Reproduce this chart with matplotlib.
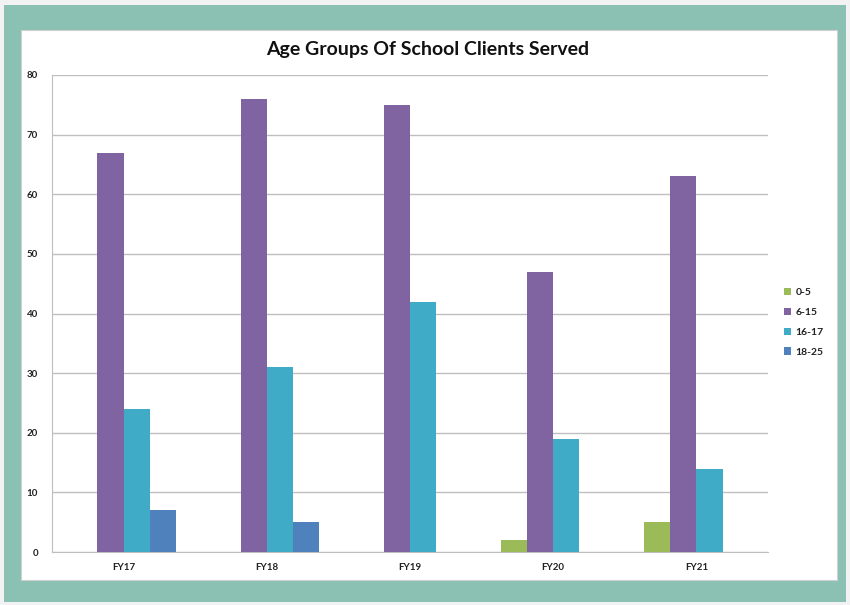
import matplotlib.pyplot as plt
import numpy as np
from matplotlib.patches import Rectangle

years = ["FY17", "FY18", "FY19", "FY20", "FY21"]
groups = ["0-5", "6-15", "16-17", "18-25"]
age_0_5 = [0, 0, 0, 2, 5]
age_6_15 = [67, 76, 75, 47, 63]
age_16_17 = [24, 31, 42, 19, 14]
age_18_25 = [7, 5, 0, 0, 0]
colors = ["#9BBB59", "#8064A2", "#40ABC6", "#4F81BD"]

W, H = 850, 605
fig = plt.figure(figsize=(W / 100, H / 100), dpi=100)
fig.patch.set_facecolor("#f2f2f2")

# teal frame and white card behind the chart
fig.patches.append(Rectangle((4 / W, 1 - 602 / H), 842 / W, 597 / H,
                             transform=fig.transFigure, facecolor="#8bc1b2",
                             edgecolor="none", zorder=-3))
fig.patches.append(Rectangle((21 / W, 1 - 580 / H), 816 / W, 550 / H,
                             transform=fig.transFigure, facecolor="white",
                             edgecolor="#d0d0d0", lw=0.8, zorder=-2))

ax = fig.add_axes([52 / W, 1 - 552 / H, (768 - 52) / W, (552 - 75) / H])
ax.set_facecolor("none")
ax.set_zorder(1)

x = np.arange(len(years))
w = 0.183
series = [age_0_5, age_6_15, age_16_17, age_18_25]
for i, (vals, lab, c) in enumerate(zip(series, groups, colors)):
    ax.bar(x + (i - 1.5) * w, vals, width=w, color=c, label=lab, zorder=3)

ax.set_xlim(-0.5, len(years) - 0.5)
ax.set_ylim(0, 80)
ax.set_yticks(range(0, 81, 10))
ax.set_xticks(x)
ax.set_xticklabels(years)
ax.yaxis.grid(True, color="#bfbfbf", lw=1, zorder=0)
ax.set_axisbelow(True)
ax.tick_params(length=0, labelsize=7, colors="#222222")
ax.tick_params(axis="y", pad=10)
ax.tick_params(axis="x", pad=8)
for lbl in ax.get_xticklabels() + ax.get_yticklabels():
    lbl.set_fontfamily("Lato")
    lbl.set_fontweight("bold")
for s in ["top", "right"]:
    ax.spines[s].set_visible(False)
ax.spines["left"].set_color("#bfbfbf")
ax.spines["bottom"].set_color("#bfbfbf")

fig.text(428 / W, 1 - 50 / H, "Age Groups Of School Clients Served",
         ha="center", va="center", fontsize=14, fontweight="bold",
         family="Lato", color="#111111")

leg = fig.legend(loc="upper left", bbox_to_anchor=(780 / W, 1 - 284 / H),
                 frameon=False, prop={"family": "Lato", "weight": "bold", "size": 7.5},
                 handlelength=0.7, handleheight=0.7, handletextpad=0.4,
                 labelspacing=1.0, borderaxespad=0)
for t in leg.get_texts():
    t.set_color("#222222")

fig.savefig("out.png", dpi=100, facecolor=fig.get_facecolor())
